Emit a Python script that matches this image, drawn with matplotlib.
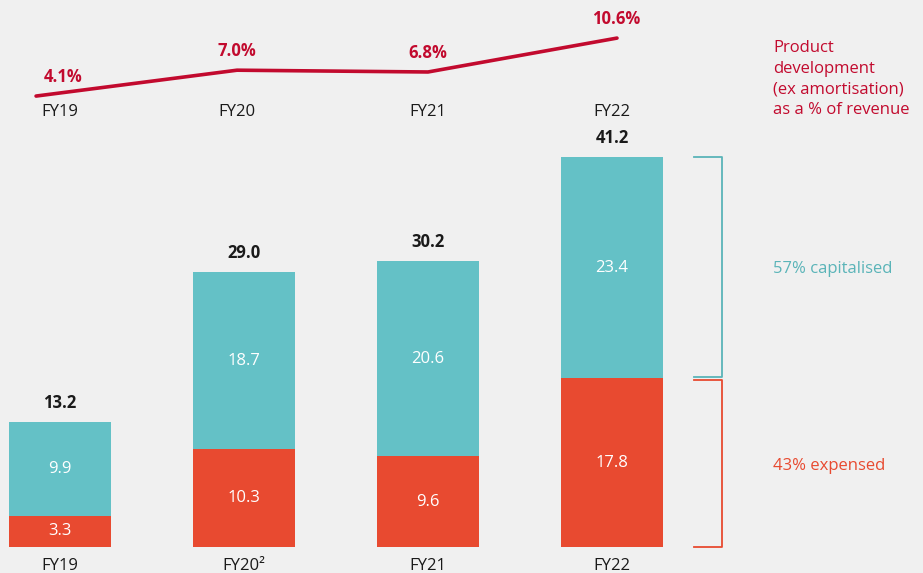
import matplotlib.pyplot as plt

years = ['FY19', 'FY20', 'FY21', 'FY22']
bar_labels = ['FY19', 'FY20²', 'FY21', 'FY22']
expensed = [3.3, 10.3, 9.6, 17.8]
capitalised = [9.9, 18.7, 20.6, 23.4]
totals = [13.2, 29.0, 30.2, 41.2]
pct_revenue = [4.1, 7.0, 6.8, 10.6]

teal = '#64c1c6'
red = '#e84a30'
crimson = '#c20a2e'
bg = '#f0f0f0'
dark = '#1a1a1a'

plt.rcParams['font.family'] = ['Open Sans', 'DejaVu Sans']
fs = 12

fig = plt.figure(figsize=(9.23, 5.73), dpi=100, facecolor=bg)
ax = fig.add_axes([0, 0, 1, 1])
ax.set_facecolor(bg)
ax.set_xlim(-0.326, 4.690)
ax.set_ylim(-2.745, 57.76)
ax.axis('off')

x = range(len(years))
width = 0.554
ax.bar(x, expensed, width, color=red)
ax.bar(x, capitalised, width, bottom=expensed, color=teal)

for i in x:
    ax.text(i, expensed[i] / 2, f'{expensed[i]:.1f}', ha='center', va='center',
            color='white', fontsize=fs)
    ax.text(i, expensed[i] + capitalised[i] / 2, f'{capitalised[i]:.1f}', ha='center',
            va='center', color='white', fontsize=fs)
    ax.text(i, totals[i] + 2.0, f'{totals[i]:.1f}', ha='center', va='center',
            color=dark, fontsize=fs, fontweight='bold')
    ax.text(i, -2.0, bar_labels[i], ha='center', va='center', color=dark, fontsize=fs)

# brackets for the FY22 split
bx0, bx1 = 3.446, 3.598
last = len(years) - 1
ax.plot([bx0, bx1, bx1, bx0], [totals[last], totals[last], expensed[last] + 0.2, expensed[last] + 0.2],
        color='#5ab4b8', lw=1.3)
ax.plot([bx0, bx1, bx1, bx0], [expensed[last] - 0.2, expensed[last] - 0.2, 0, 0],
        color=red, lw=1.3)
ax.text(3.875, expensed[last] + capitalised[last] / 2 - 0.1, '57% capitalised', color='#5ab4b8',
        fontsize=fs, va='center', ha='left')
ax.text(3.875, expensed[last] / 2 - 0.3, '43% expensed', color=red,
        fontsize=fs, va='center', ha='left')

# top line chart
lx = ax.twinx()
lx.set_ylim(-49.37, 14.87)
lx.axis('off')
line_x = [-0.13, 0.962, 2.0, 3.027]
lx.plot(line_x, pct_revenue, color=crimson, lw=2.6, solid_capstyle='round')
label_x = [0.016, 0.962, 2.0, 3.022]
for i in x:
    lx.text(label_x[i], pct_revenue[i] + 2.1, f'{pct_revenue[i]:.1f}%', ha='center', va='center',
            color=crimson, fontsize=fs, fontweight='bold')
top_x = [0.0, 0.962, 2.0, 3.0]
for i in x:
    lx.text(top_x[i], 2.3, years[i], ha='center', va='center', color=dark, fontsize=fs)

fig.text(773 / 923, 1 - 40 / 573,
         'Product\ndevelopment\n(ex amortisation)\nas a % of revenue',
         color=crimson, fontsize=fs, va='top', ha='left', linespacing=1.38)

fig.savefig('out.png', dpi=100, facecolor=bg)
